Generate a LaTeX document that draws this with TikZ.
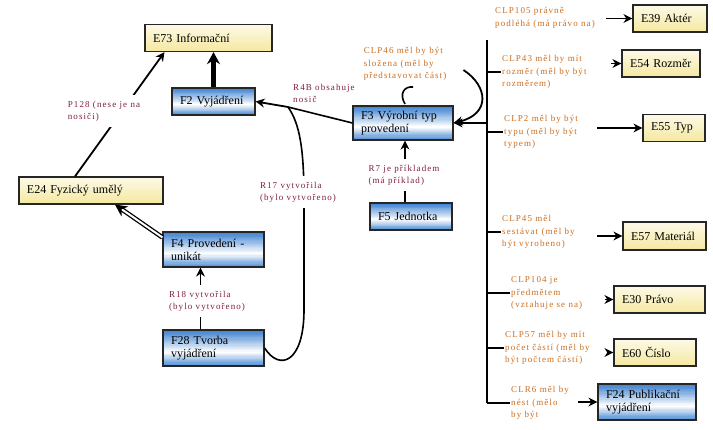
\documentclass[tikz,border=0pt]{standalone}
\usepackage{fontspec}
\setmainfont{Liberation Serif}
\newfontfamily\relfont[LetterSpace=12]{Liberation Serif}
\usetikzlibrary{arrows.meta, positioning, calc}
\definecolor{fblue}{RGB}{58,128,208}
\definecolor{eyellow}{RGB}{245,232,158}
\definecolor{relred}{RGB}{128,28,68}
\definecolor{clporange}{RGB}{204,108,28}

\tikzset{
  bluefade/.style={path picture={
    \foreach \i in {0,...,29}{
      \pgfmathsetmacro\t{\i/30}
      \pgfmathtruncatemacro\p{\t<0.6 ? 100*(1-\t/0.6) : 95*(\t-0.6)/0.4}
      \fill[fblue!\p!white] ($(path picture bounding box.north west)!\t!(path picture bounding box.south west)$) rectangle ($(path picture bounding box.north east)!{\t+0.045}!(path picture bounding box.south east)$);
    }}},
  yellowfade/.style={path picture={
    \foreach \i in {0,...,29}{
      \pgfmathsetmacro\t{\i/30}
      \pgfmathtruncatemacro\p{25+75*\t}
      \fill[eyellow!\p!white] ($(path picture bounding box.north west)!\t!(path picture bounding box.south west)$) rectangle ($(path picture bounding box.north east)!{\t+0.045}!(path picture bounding box.south east)$);
    }}},
}

\begin{document}
\begin{tikzpicture}[x=1pt, y=-1pt, font=\fontsize{12}{13}\selectfont]
\tikzstyle{entity} = [rectangle, draw=black!85, line width=1.2pt, yellowfade, minimum height=27pt, align=left, inner xsep=8pt, inner ysep=3pt]
\tikzstyle{frbr} = [rectangle, draw=black!85, line width=1.2pt, bluefade, minimum height=27pt, align=left, inner xsep=8pt, inner ysep=3pt]
\tikzstyle{rel} = [text=relred, font=\relfont\fontsize{9}{12}\selectfont, align=left, fill=white, inner xsep=1pt, inner ysep=6pt]
\tikzstyle{clp} = [text=clporange, font=\relfont\fontsize{9}{12.5}\selectfont, align=left, inner sep=1pt]
\tikzstyle{link} = [line width=1.6pt]
\tikzstyle{tick} = [line width=2.6pt]
\tikzstyle{arrow} = [line width=1.8pt, -{Stealth[length=9pt, width=9pt]}]
\tikzstyle{bigarrow} = [line width=5pt, -{Stealth[length=12pt, width=13pt]}]
\tikzstyle{dblarrow} = [double=white, double distance=2pt, line width=1.3pt, -{Stealth[length=12pt, width=12pt]}]

\useasboundingbox (0,0) rectangle (713,429);

% boxes on the left
\node (e73) [entity, text width=111pt] at (208.5,38) {E73 Informační};
\node (f2) [frbr, text width=67pt] at (213.5,101.5) {F2 Vyjádření};
\node (e24) [entity, text width=128pt] at (91,190.5) {E24 Fyzický umělý};
\node (f4) [frbr, text width=85pt, minimum height=35pt] at (213.5,249.5) {F4 Provedení -\\unikát};
\node (f28) [frbr, text width=85pt, minimum height=36pt] at (213.5,348) {F28 Tvorba\\vyjádření};
\node (f3) [frbr, text width=84pt, minimum height=34pt] at (403,123) {F3 Výrobní typ\\provedení};
\node (f5) [frbr, text width=66pt] at (411,216.5) {F5 Jednotka};

% boxes on the right
\node (e39) [entity, text width=58pt] at (670,18.5) {E39 Aktér};
\node (e54) [entity, text width=62pt] at (661,63.5) {E54 Rozměr};
\node (e55) [entity, text width=46pt] at (674,128) {E55 Typ};
\node (e57) [entity, text width=67pt, minimum height=28pt] at (664.5,236) {E57 Materiál};
\node (e30) [entity, text width=75pt] at (659.5,299.5) {E30 Právo};
\node (e60) [entity, text width=66pt] at (655,352.5) {E60 Číslo};
\node (f24) [frbr, text width=82pt, minimum height=36pt] at (647,402) {F24 Publikační\\vyjádření};

% left connectors
\draw [arrow] ([xshift=-16pt]e24.north) -- ([xshift=-44pt]e73.south);
\draw [bigarrow] (f2.north) -- (f2.north |- e73.south);
\draw [dblarrow] ([yshift=-6pt]f4.north west) -- ([xshift=24pt]e24.south);
\draw [arrow] ([xshift=-13pt]f28.north) -- ([xshift=-13pt]f4.south);
\draw [arrow] ([xshift=-6pt]f5.north) -- ([xshift=-6pt]f5.north |- f3.south);

\coordinate (hub) at (288,107);
\draw [link] (f28.east) .. controls (280,372) and (304,362) .. (304,310) -- (304,200) .. controls (304,150) and (300,124) .. (hub);
\draw [arrow] (hub) -- (f2.east);
\draw [link] (hub) -- (f3.west);
\draw [link] (405,104) .. controls (399,94) and (404,86) .. (413,87);

\node (p128) [rel] at (104,111) {P128 (nese je na\\nosiči)};
\node (r4b) [rel, fill=none, inner ysep=1pt, anchor=west] at (292,93) {R4B obsahuje\\nosič};
\node (r17) [rel] at (298,192) {R17 vytvořila\\(bylo vytvořeno)};
\node (r18) [rel] at (207,301) {R18 vytvořila\\(bylo vytvořeno)};
\node (r7) [rel] at (404,175) {R7 je příkladem\\(má příklad)};

% bus on the right
\coordinate (bustop) at (487,40);
\coordinate (busbot) at (487,403);
\draw [line width=1.3pt] (bustop) -- (busbot);

\node (clp105) [clp, anchor=west] at (494,18) {CLP105 právně\\podléhá (má právo na)};
\node (clp46) [clp] at (405,64) {CLP46 měl by být\\složena (měl by\\představovat část)};
\node (clp43) [clp, anchor=west] at (501,72) {CLP43 měl by mít\\rozměr (měl by být\\rozměrem)};
\node (clp2) [clp, anchor=west] at (503,132) {CLP2 měl by být\\typu (měl by být\\typem)};
\node (clp45) [clp, anchor=west] at (501,232) {CLP45 měl\\sestávat (měl by\\být vyrobeno)};
\node (clp104) [clp, anchor=west] at (510,293) {CLP104 je\\předmětem\\(vztahuje se na)};
\node (clp57) [clp, anchor=west] at (504,348) {CLP57 měl by mít\\počet částí (měl by\\být počtem částí)};
\node (clr6) [clp, anchor=west] at (510,403) {CLR6 měl by\\nést (mělo\\by být};

\draw [tick] (clp43.west -| bustop) -- (clp43.west);
\draw [tick] (clp2.west -| bustop) -- (clp2.west);
\draw [tick] (clp45.west -| bustop) -- (clp45.west);
\draw [tick] (clp104.west -| bustop) -- (clp104.west);
\draw [tick] (clp57.west -| bustop) -- (clp57.west);
\draw [link] (busbot) -- (clr6.west);

\draw [arrow] (f3.east -| bustop) -- (f3.east);
\draw [arrow] ([xshift=16pt,yshift=-6pt]clp46.east) .. controls (488,86) and (491,114) .. (f3.east);

\draw [arrow] ([xshift=-26pt]e39.west) -- (e39.west);
\draw [arrow] ([xshift=-10pt]e54.west) -- (e54.west);
\draw [arrow] ([xshift=-45pt]e55.west) -- (e55.west);
\draw [arrow] ([xshift=-25pt]e57.west) -- (e57.west);
\draw [arrow] ([xshift=-8pt]e30.west) -- (e30.west);
\draw [arrow] ([xshift=-6pt]e60.west) -- (e60.west);
\draw [arrow] ([xshift=-19pt]f24.west) -- (f24.west);
\end{tikzpicture}
\end{document}
